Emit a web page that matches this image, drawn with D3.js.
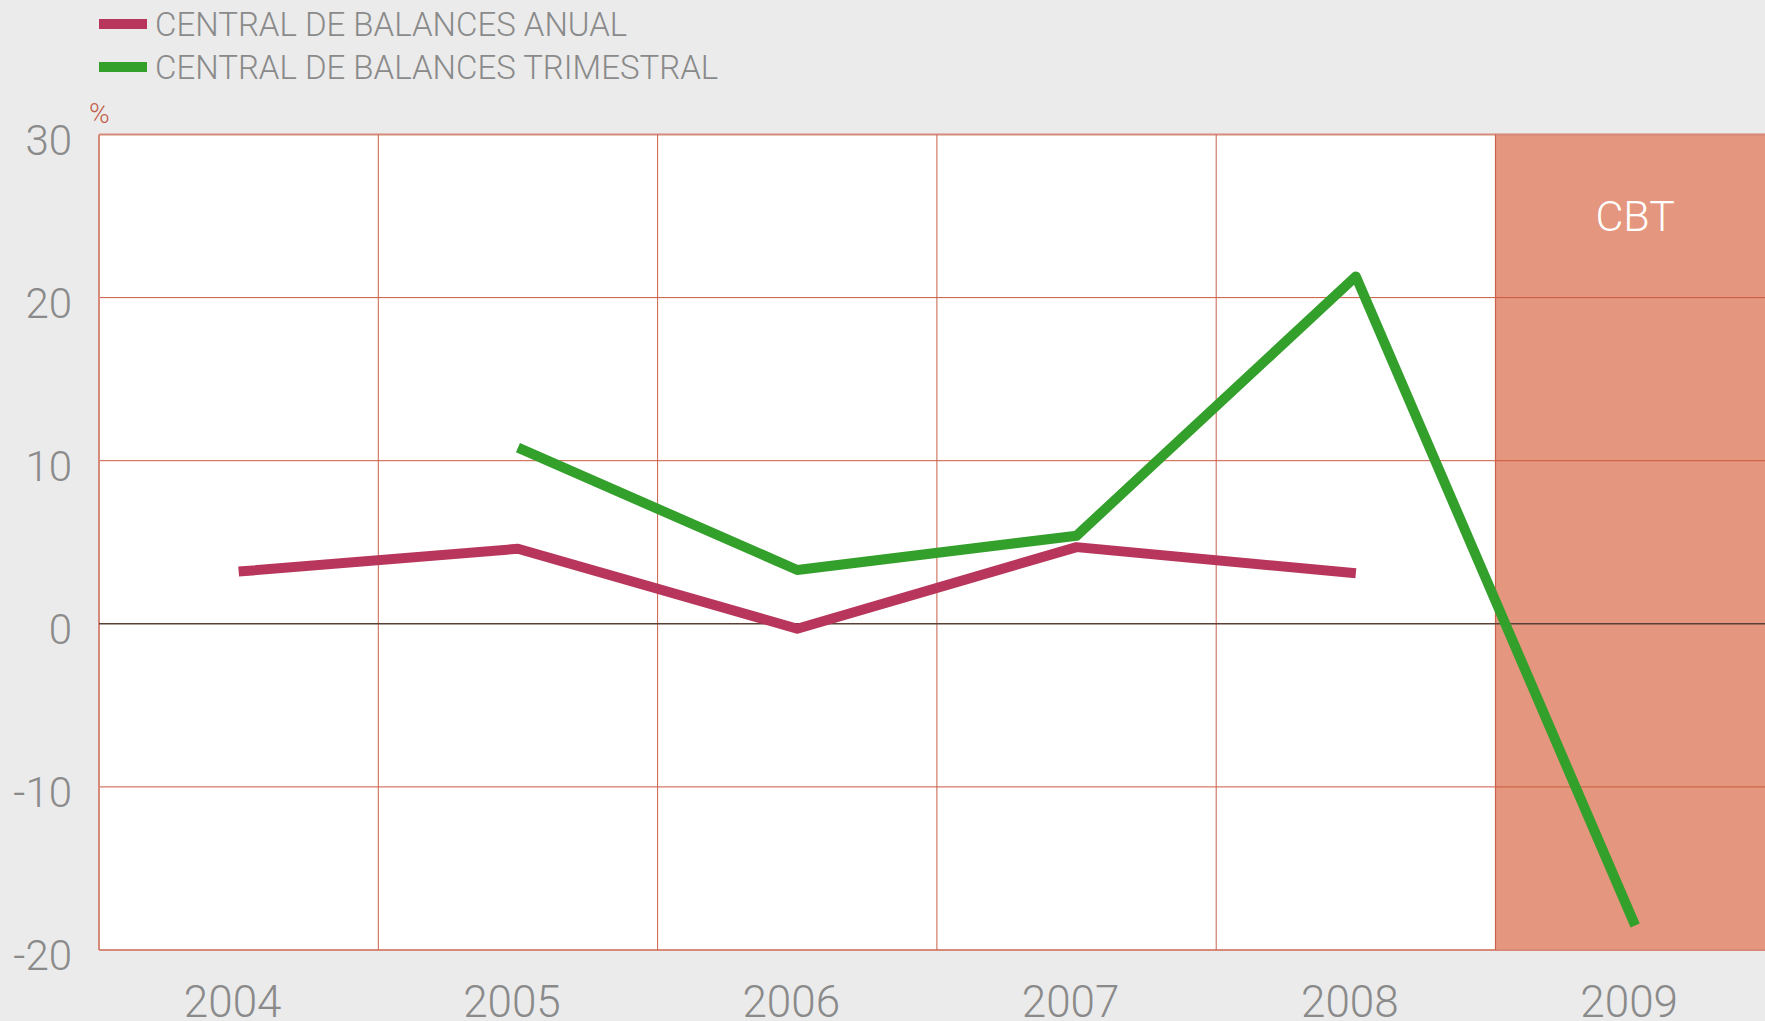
<!DOCTYPE html>
<html>
<head>
<meta charset="utf-8">
<script src="https://cdn.jsdelivr.net/npm/d3@7"></script>
<style>
  body { margin: 0; background: #ebebeb; overflow: hidden; }
  svg { display: block; }
  text { font-family: Roboto, "Liberation Sans", sans-serif; font-weight: 300; }
</style>
</head>
<body>
<svg></svg>
<script>
// data
var years = ["2004", "2005", "2006", "2007", "2008", "2009"];
var anual = [3.2, 4.6, -0.3, 4.7, 3.1];
var anualYears = ["2004", "2005", "2006", "2007", "2008"];
var trimestral = [10.8, 3.3, 5.4, 21.3, -18.5];
var trimYears = ["2005", "2006", "2007", "2008", "2009"];
var yTicks = [-20, -10, 0, 10, 20, 30];
var legendLabels = ["CENTRAL DE BALANCES ANUAL", "CENTRAL DE BALANCES TRIMESTRAL"];
var colors = ["#b8365c", "#34a02c"];

let w = 1765;
let h = 1021;

var svg = d3.select("svg").attr("width", w).attr("height", h);

var x = d3.scaleBand().domain(years).range([99, 99 + 6 * 279.3]).padding(0);
var y = d3.scaleLinear().domain([-20, 30]).range([950, 134.5]);

var left = x.range()[0];
var right = x.range()[1];

// plot background
svg.append("rect")
  .attr("x", left).attr("y", y(30))
  .attr("width", right - left).attr("height", y(-20) - y(30))
  .attr("fill", "#fff");

// CBT shaded band
svg.append("rect")
  .attr("x", x("2009")).attr("y", y(30))
  .attr("width", x.bandwidth()).attr("height", y(-20) - y(30))
  .attr("fill", "#e4967e")
  .attr("stroke", "#cf7560").attr("stroke-width", 1.2);

// horizontal grid
svg.append("g")
  .selectAll("line")
  .data(yTicks.filter(d => d !== 0))
  .enter()
  .append("line")
  .attr("x1", left).attr("x2", right)
  .attr("y1", d => y(d)).attr("y2", d => y(d))
  .attr("stroke", d => (d === 30 || d === -20) ? "#d88a7a" : "#cc5a42")
  .attr("stroke-width", d => (d === 30 || d === -20) ? 2 : 1);

// vertical grid
svg.append("g")
  .selectAll("line")
  .data(years)
  .enter()
  .append("line")
  .attr("x1", d => x(d)).attr("x2", d => x(d))
  .attr("y1", y(30)).attr("y2", y(-20))
  .attr("stroke", (d, i) => i === 0 ? "#d88a7a" : "#c8604c")
  .attr("stroke-width", (d, i) => i === 0 ? 2 : 1);

// zero line
svg.append("line")
  .attr("x1", left).attr("x2", right)
  .attr("y1", y(0)).attr("y2", y(0))
  .attr("stroke", "#5a4036").attr("stroke-width", 1.5);

// y labels
svg.append("g")
  .selectAll("text")
  .data(yTicks)
  .enter()
  .append("text")
  .attr("x", 72)
  .attr("y", d => y(d) + 20)
  .attr("text-anchor", "end")
  .attr("font-size", 42)
  .attr("fill", "#8a8a8a")
  .text(d => d);

svg.append("text")
  .attr("x", 89).attr("y", 123)
  .attr("font-size", 28)
  .attr("fill", "#c0604a")
  .text("%");

// x labels
svg.append("g")
  .selectAll("text")
  .data(years)
  .enter()
  .append("text")
  .attr("x", d => x(d) + x.bandwidth() / 2 - 6)
  .attr("y", 1017)
  .attr("text-anchor", "middle")
  .attr("font-size", 44)
  .attr("fill", "#8a8a8a")
  .text(d => d);

// CBT label
svg.append("text")
  .attr("x", x("2009") + x.bandwidth() / 2)
  .attr("y", 231)
  .attr("text-anchor", "middle")
  .attr("font-size", 43)
  .attr("fill", "#fff")
  .text("CBT");

// lines
var line = d3.line()
  .x(d => x(d[0]) + x.bandwidth() / 2)
  .y(d => y(d[1]));

svg.append("path")
  .datum(anualYears.map((yr, i) => [yr, anual[i]]))
  .attr("d", line)
  .attr("fill", "none")
  .attr("stroke", colors[0])
  .attr("stroke-width", 10)
  .attr("stroke-linejoin", "round");

svg.append("path")
  .datum(trimYears.map((yr, i) => [yr, trimestral[i]]))
  .attr("d", line)
  .attr("fill", "none")
  .attr("stroke", colors[1])
  .attr("stroke-width", 10)
  .attr("stroke-linejoin", "round");

// legend
var legend = svg.append("g")
  .selectAll("g")
  .data(legendLabels)
  .enter()
  .append("g")
  .attr("transform", (d, i) => "translate(99," + (24 + i * 43) + ")");

legend.append("rect")
  .attr("x", 0).attr("y", -5)
  .attr("width", 48).attr("height", 10)
  .attr("fill", (d, i) => colors[i]);

legend.append("text")
  .attr("x", 56).attr("y", 12)
  .attr("font-size", 33)
  .attr("fill", "#8a8a8a")
  .text(d => d);
</script>
</body>
</html>
